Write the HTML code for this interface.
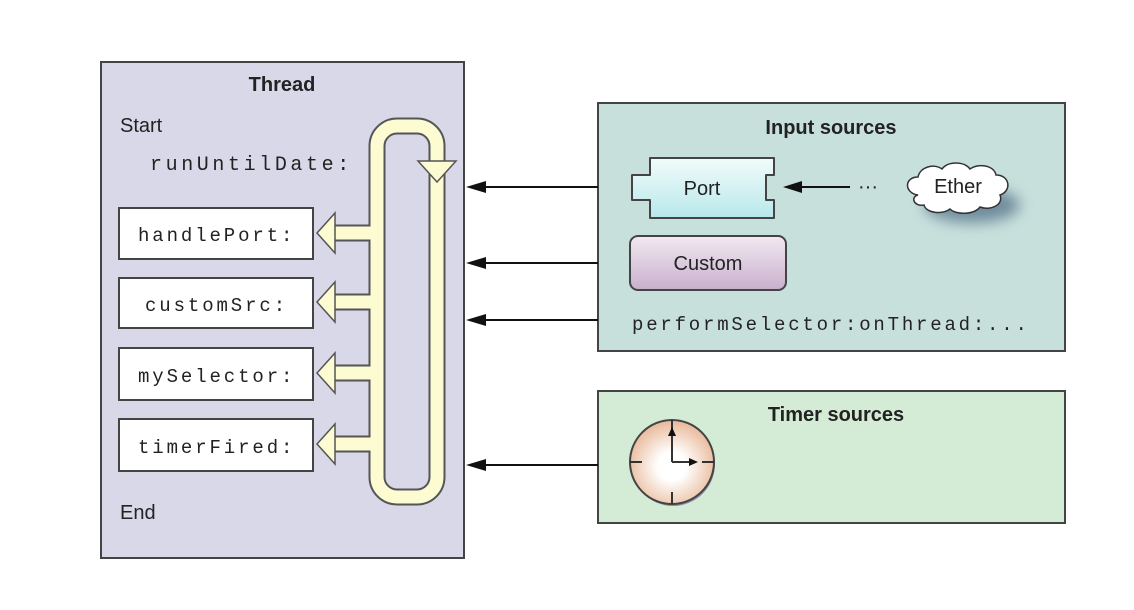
<!DOCTYPE html>
<html><head><meta charset="utf-8"><style>body{margin:0;background:#fff}svg{display:block}</style></head><body>
<svg width="1134" height="610" viewBox="0 0 1134 610" xmlns="http://www.w3.org/2000/svg">
<defs>
<linearGradient id="pg" x1="0" y1="0" x2="0" y2="1"><stop offset="0" stop-color="#f2fbfb"/><stop offset="1" stop-color="#b8e8ea"/></linearGradient>
<linearGradient id="cg" x1="0" y1="0" x2="0" y2="1"><stop offset="0" stop-color="#f2e8f2"/><stop offset="1" stop-color="#c8b0cc"/></linearGradient>
<radialGradient id="kg" cx="0.5" cy="0.55" r="0.55"><stop offset="0.3" stop-color="#ffffff"/><stop offset="1" stop-color="#e8b898"/></radialGradient>
<filter id="sh" x="-50%" y="-50%" width="200%" height="200%"><feGaussianBlur stdDeviation="7"/></filter>
</defs>
<g font-family="Liberation Sans, sans-serif">
<rect x="101" y="62" width="363" height="496" fill="#d9d8e8" stroke="#444" stroke-width="2"/>
<text x="282" y="91" font-size="20" font-weight="bold" text-anchor="middle" fill="#222">Thread</text>
<text x="120" y="132" font-size="20" fill="#222">Start</text>
<text x="150" y="170" font-size="20" letter-spacing="3.6" font-family="Liberation Mono, monospace" fill="#222">runUntilDate:</text>
<text x="120" y="519" font-size="20" fill="#222">End</text>
<g fill="#fff" stroke="#444" stroke-width="2">
<rect x="119" y="208" width="194" height="51"/>
<rect x="119" y="278" width="194" height="50"/>
<rect x="119" y="348" width="194" height="52"/>
<rect x="119" y="419" width="194" height="52"/>
</g>
<g font-size="19" letter-spacing="2.9" font-family="Liberation Mono, monospace" fill="#222">
<text x="138" y="241">handlePort:</text>
<text x="145" y="311">customSrc:</text>
<text x="138" y="382">mySelector:</text>
<text x="138" y="453">timerFired:</text>
</g>
<g fill="none" stroke-linejoin="round">
<g stroke="#555" stroke-width="17">
<rect x="377" y="126" width="60" height="371" rx="20"/>
<path d="M335,233H377M335,302H377M335,373H377M335,444H377"/>
</g>
<g stroke="#fdfbd2" stroke-width="13">
<rect x="377" y="126" width="60" height="371" rx="20"/>
<path d="M333,233H379M333,302H379M333,373H379M333,444H379"/>
</g>
</g>
<g fill="#fdfbd2" stroke="#555" stroke-width="1.5">
<path d="M317,233L335,213V253Z"/>
<path d="M317,302L335,282V322Z"/>
<path d="M317,373L335,353V393Z"/>
<path d="M317,444L335,424V464Z"/>
<path d="M437,182L418,161H456Z"/>
</g>
<rect x="598" y="103" width="467" height="248" fill="#c8e0dc" stroke="#444" stroke-width="2"/>
<text x="831" y="134" font-size="20" font-weight="bold" text-anchor="middle" fill="#222">Input sources</text>
<path d="M650,158H774V175H766V200H774V218H650V200H632V175H650Z" fill="url(#pg)" stroke="#444" stroke-width="2" stroke-linejoin="round"/>
<text x="702" y="195" font-size="20" text-anchor="middle" fill="#222">Port</text>
<rect x="630" y="236" width="156" height="54" rx="8" fill="url(#cg)" stroke="#444" stroke-width="2"/>
<text x="708" y="270" font-size="20" text-anchor="middle" fill="#222">Custom</text>
<text x="632" y="330" font-size="19" letter-spacing="2.8" font-family="Liberation Mono, monospace" fill="#222">performSelector:onThread:...</text>
<line x1="850" y1="187" x2="795" y2="187" stroke="#111" stroke-width="2"/>
<path d="M783,187L802,181V193Z" fill="#111"/>
<text x="858" y="193" font-size="20" fill="#222">···</text>
<ellipse cx="972" cy="205" rx="48" ry="18" fill="#2a4a6a" opacity="0.55" filter="url(#sh)"/>
<path d="M918,195c-14,-2 -14,-18 0,-18c2,-10 16,-14 24,-8c6,-8 22,-8 28,0c8,-6 24,-4 26,6c14,0 16,16 4,20c4,10 -10,16 -20,12c-6,8 -24,8 -30,2c-8,6 -24,4 -26,-4c-10,2 -14,-8 -6,-10z" fill="#fff" stroke="#333" stroke-width="1.5"/>
<text x="958" y="193" font-size="20" text-anchor="middle" fill="#222">Ether</text>
<rect x="598" y="391" width="467" height="132" fill="#d4ecd6" stroke="#444" stroke-width="2"/>
<text x="836" y="421" font-size="20" font-weight="bold" text-anchor="middle" fill="#222">Timer sources</text>
<circle cx="673" cy="464" r="42" fill="#5a4a8a" opacity="0.6"/>
<circle cx="672" cy="462" r="42" fill="url(#kg)" stroke="#444" stroke-width="2"/>
<g stroke="#333" stroke-width="2">
<line x1="672" y1="420" x2="672" y2="432"/><line x1="672" y1="492" x2="672" y2="504"/>
<line x1="630" y1="462" x2="642" y2="462"/><line x1="702" y1="462" x2="714" y2="462"/>
<line x1="672" y1="462" x2="672" y2="432"/><line x1="672" y1="462" x2="692" y2="462"/>
</g>
<path d="M672,427L668,436H676Z M698,462L689,458V466Z" fill="#111"/>
<g stroke="#111" stroke-width="2">
<line x1="598" y1="187" x2="480" y2="187"/>
<line x1="598" y1="263" x2="480" y2="263"/>
<line x1="598" y1="320" x2="480" y2="320"/>
<line x1="598" y1="465" x2="480" y2="465"/>
</g>
<g fill="#111">
<path d="M466,187L486,181V193Z"/><path d="M466,263L486,257V269Z"/>
<path d="M466,320L486,314V326Z"/><path d="M466,465L486,459V471Z"/>
</g>
</g>
</svg>
</body></html>
